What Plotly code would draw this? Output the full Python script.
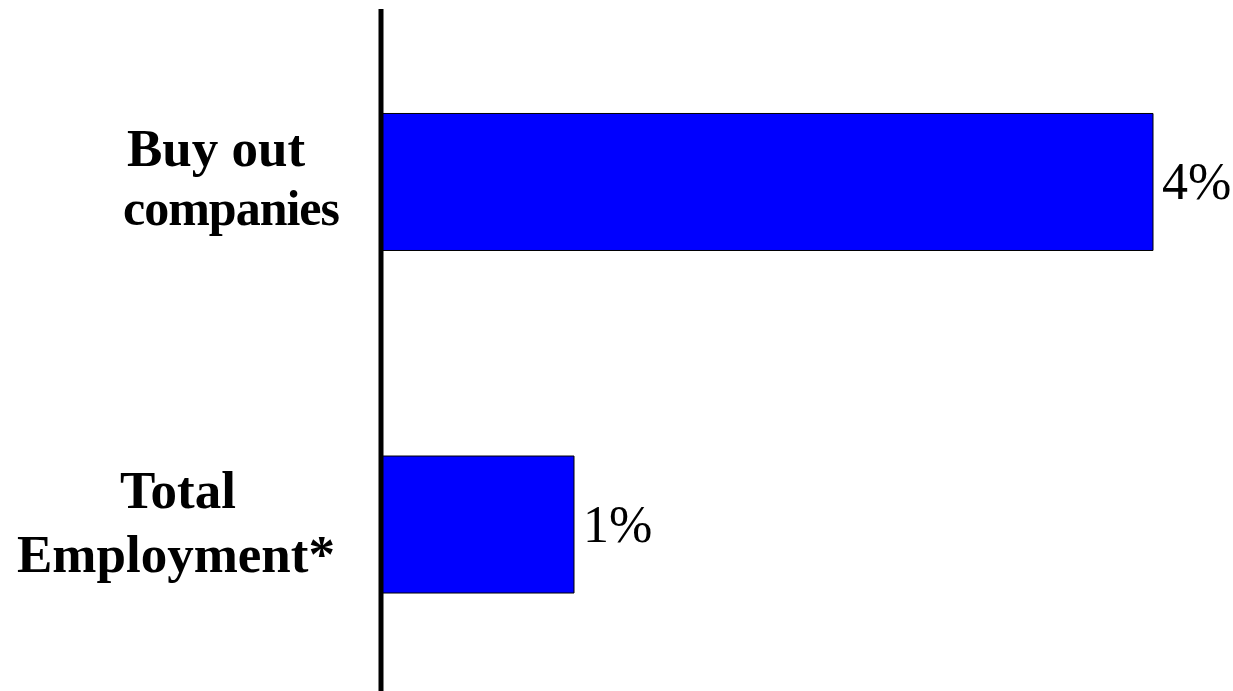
import plotly.graph_objects as go

# Chart data
categories = ["Total Employment*", "Buy out companies"]
label_lines = [["Total", "Employment*"], ["Buy out", "companies"]]
values = [1, 4]  # percent
value_labels = ["1%", "4%"]

W, H = 1233, 691
ML, MT = 381, 9
px_per_unit = 193.0
x_max = (W - ML) / px_per_unit

SERIF = "Liberation Serif, Times New Roman, serif"

fig = go.Figure(
    go.Bar(
        y=categories,
        x=values,
        orientation="h",
        width=0.4,
        marker=dict(color="#0000FF", line=dict(color="#000000", width=1)),
        hoverinfo="skip",
    )
)

# Value labels just right of each bar end
for cat, v, lab in zip(categories, values, value_labels):
    fig.add_annotation(
        x=v, y=cat, xref="x", yref="y",
        text=lab, showarrow=False,
        xanchor="left", yanchor="middle", xshift=7,
        font=dict(family=SERIF, size=52, color="#000000"),
    )

# Two-line category labels left of the axis:
# (x centre in px, y offset from bar centre in px, font size)
line_layout = {
    "Total": (178, 35, 53),
    "Employment*": (176, -29, 53),
    "Buy out": (216, 34, 53),
    "companies": (231, -26, 50),
}
line_style = {"companies": "letter-spacing:-1px"}

for cat, lines in zip(categories, label_lines):
    for line in lines:
        cx, dy, fs = line_layout[line]
        txt = line
        if line in line_style:
            txt = "<span style='" + line_style[line] + "'>" + line + "</span>"
        fig.add_annotation(
            x=0, y=cat, xref="paper", yref="y",
            text="<b>" + txt + "</b>", showarrow=False,
            xanchor="center", yanchor="middle",
            xshift=cx - ML, yshift=dy,
            font=dict(family=SERIF, size=fs, color="#000000"),
        )

# Vertical axis line at the left edge of the bars
fig.add_shape(
    type="line", xref="paper", yref="paper",
    x0=0, x1=0, y0=0, y1=1,
    line=dict(color="#000000", width=5),
    layer="above",
)

fig.update_layout(
    width=W, height=H,
    margin=dict(l=ML, r=0, t=MT, b=0),
    paper_bgcolor="#FFFFFF",
    plot_bgcolor="#FFFFFF",
    showlegend=False,
    xaxis=dict(range=[0, x_max], showgrid=False, zeroline=False,
               showticklabels=False, showline=False, fixedrange=True),
    yaxis=dict(type="category", categoryorder="array", categoryarray=categories,
               range=[-0.486, 1.505], showgrid=False, zeroline=False,
               showticklabels=False, showline=False, fixedrange=True),
)

fig.write_html("out.html")
